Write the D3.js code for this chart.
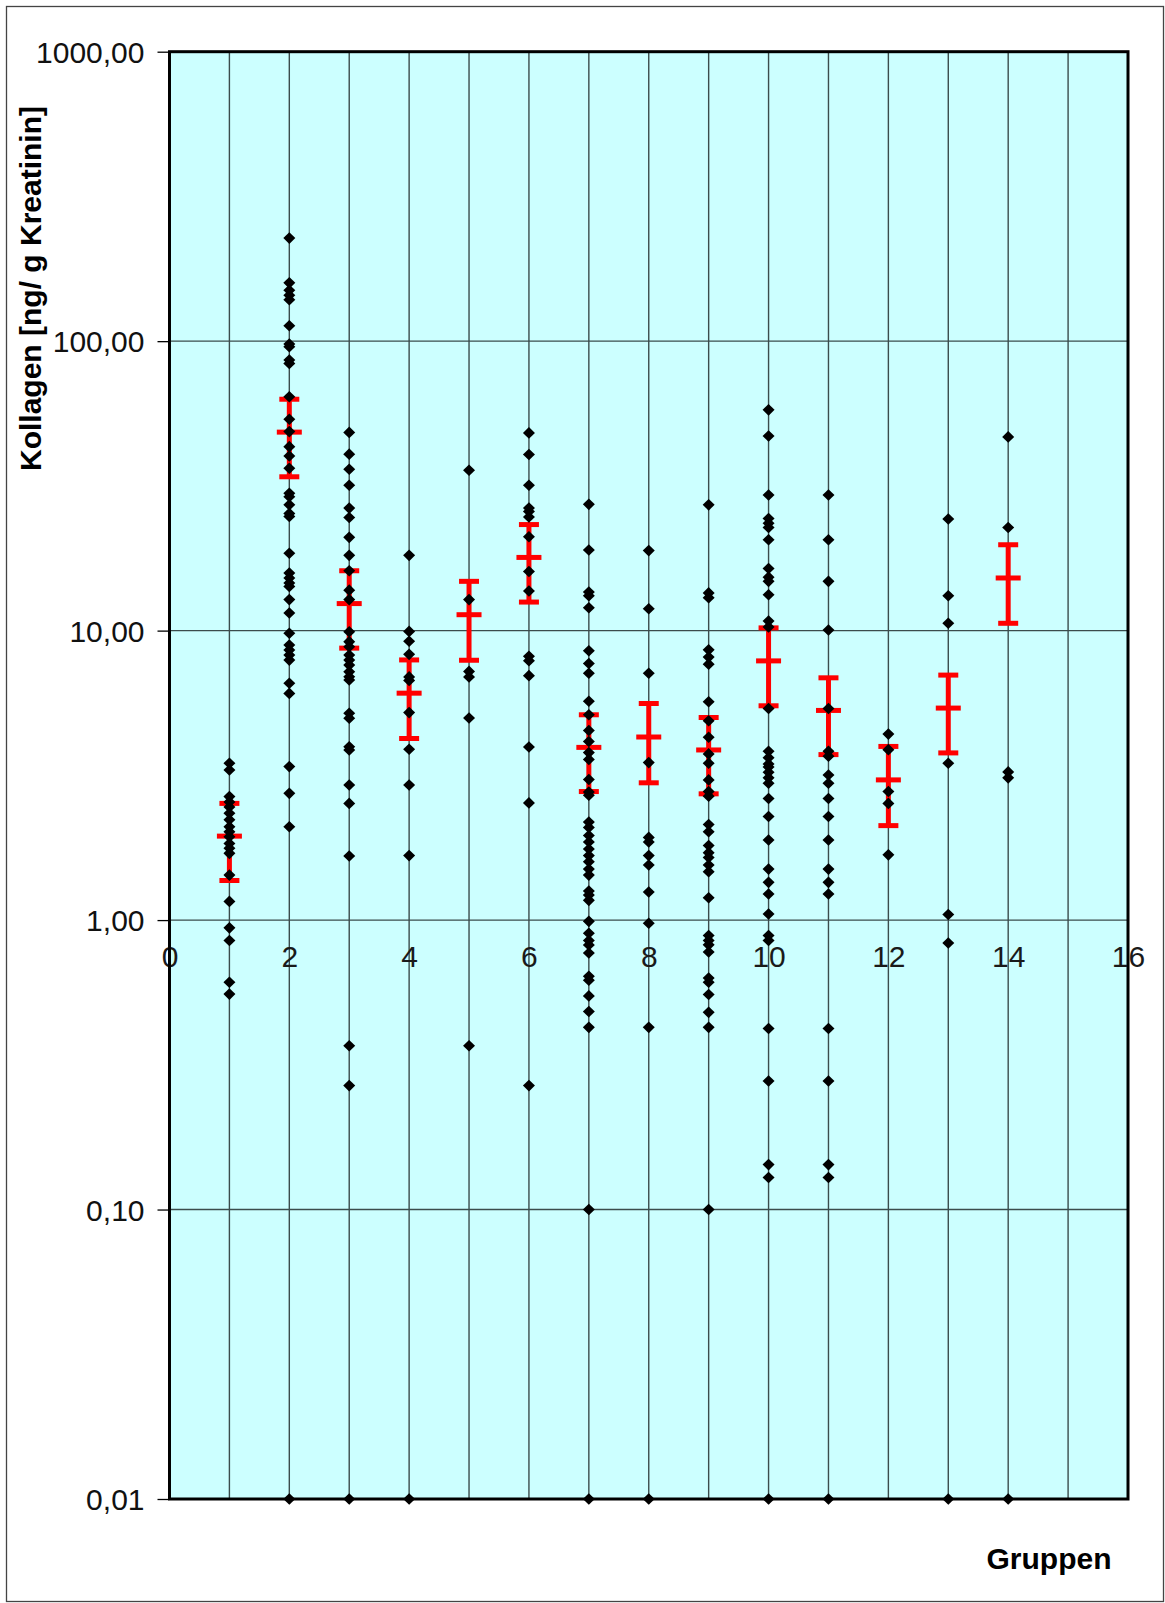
<!DOCTYPE html>
<html>
<head>
<meta charset="utf-8">
<script src="https://cdn.jsdelivr.net/npm/d3@7"></script>
<style>
  html, body { margin: 0; padding: 0; background: #fff; }
  svg { display: block; }
  text { font-family: "Liberation Sans", Arial, Helvetica, sans-serif; }
</style>
</head>
<body>
<svg id="chart" width="1165" height="1603"></svg>
<script>
// Kollagen per Gruppe (ng/g Kreatinin); 0,01 = Werte an der Achsenuntergrenze
const gruppe1  = [3.48, 3.30, 2.67, 2.56, 2.46, 2.34, 2.22, 2.10, 2.02, 1.94, 1.84, 1.77, 1.70, 1.43, 1.16, 0.94, 0.85, 0.61, 0.555];
const gruppe2  = [227, 159, 150, 144, 139, 113, 97.7, 95.7, 86.1, 83.8, 64.3, 53.7, 48.7, 43.2, 40.1, 36.4, 29.8, 29.0, 27.2, 25.4, 24.8, 18.5, 15.8, 15.2, 14.6, 14.2, 12.8, 11.5, 9.79, 8.92, 8.57, 8.23, 7.91, 6.58, 6.07, 3.39, 2.74, 2.10, 0.01];
const gruppe3  = [48.4, 40.7, 36.1, 31.8, 26.5, 24.6, 21.0, 18.2, 16.1, 13.8, 12.8, 9.91, 9.16, 8.80, 8.23, 7.91, 7.60, 7.21, 6.93, 6.75, 5.18, 4.98, 3.97, 3.87, 2.93, 2.53, 1.665, 0.368, 0.268, 0.01];
const gruppe4  = [18.2, 9.94, 9.19, 8.28, 6.92, 6.73, 5.21, 3.89, 2.93, 1.67, 0.01];
const gruppe5  = [35.8, 12.8, 7.23, 6.92, 4.99, 0.368];
const gruppe6  = [48.2, 40.6, 31.8, 26.5, 25.8, 24.7, 21.1, 16.0, 13.7, 8.15, 7.87, 6.99, 3.96, 2.54, 0.268];
const gruppe7  = [27.3, 19.0, 13.6, 13.2, 12.0, 8.52, 7.70, 7.12, 5.70, 5.12, 4.52, 4.14, 3.79, 3.59, 3.06, 2.77, 2.70, 2.18, 2.09, 1.96, 1.86, 1.76, 1.67, 1.59, 1.50, 1.43, 1.26, 1.22, 1.17, 0.99, 0.90, 0.85, 0.82, 0.77, 0.64, 0.62, 0.547, 0.483, 0.426, 0.1, 0.01];
const gruppe8  = [18.9, 11.9, 7.12, 3.50, 1.93, 1.86, 1.67, 1.55, 1.25, 0.975, 0.426, 0.01];
const gruppe9  = [27.2, 13.5, 13.0, 8.58, 8.10, 7.66, 5.68, 4.88, 4.28, 3.75, 3.48, 3.05, 2.78, 2.68, 2.14, 2.02, 1.81, 1.71, 1.645, 1.55, 1.47, 1.195, 0.885, 0.85, 0.821, 0.776, 0.631, 0.61, 0.553, 0.48, 0.426, 0.1];
const gruppe10 = [57.9, 47.0, 29.4, 24.4, 23.5, 22.7, 20.6, 16.4, 15.3, 14.8, 13.3, 10.8, 10.3, 5.38, 3.83, 3.64, 3.46, 3.38, 3.24, 3.10, 2.97, 2.63, 2.28, 1.89, 1.50, 1.35, 1.23, 1.05, 0.885, 0.85, 0.422, 0.278, 0.143, 0.129, 0.01];
const gruppe11 = [29.4, 20.6, 14.8, 10.05, 5.38, 3.83, 3.68, 3.17, 2.97, 2.63, 2.28, 1.89, 1.50, 1.35, 1.23, 0.422, 0.278, 0.143, 0.129, 0.01];
const gruppe12 = [4.39, 3.88, 2.78, 2.53, 1.68];
const gruppe13 = [24.3, 13.2, 10.6, 3.48, 1.045, 0.833, 0.01];
const gruppe14 = [46.7, 22.7, 3.25, 3.10, 0.01];

const gruppen = [1, 2, 3, 4, 5, 6, 7, 8, 9, 10, 11, 12, 13, 14];
const werte = [gruppe1, gruppe2, gruppe3, gruppe4, gruppe5, gruppe6, gruppe7,
               gruppe8, gruppe9, gruppe10, gruppe11, gruppe12, gruppe13, gruppe14];

// Mittelwert und Fehlerbalken je Gruppe
const mittelwerte = [1.95, 48.5, 12.4, 6.08, 11.35, 17.9, 3.95, 4.29, 3.87, 7.86, 5.3, 3.05, 5.4, 15.2];
const fehler      = [0.58, 14.5, 3.7, 1.84, 3.45, 5.35, 1.17, 1.31, 1.14, 2.36, 1.57, 0.93, 1.62, 4.6];

// Achsenbeschriftungen
const xTicks = [0, 2, 4, 6, 8, 10, 12, 14, 16];
const yTicks = [1000, 100, 10, 1, 0.1, 0.01];
const yTickLabels = ["1000,00", "100,00", "10,00", "1,00", "0,10", "0,01"];
const yTitel = "Kollagen [ng/ g Kreatinin]";
const xTitel = "Gruppen";

const svg = d3.select("#chart");
const plot = { left: 169.5, right: 1128, top: 51.7, bottom: 1499 };

const x = d3.scaleLinear().domain([0, 16]).range([plot.left, plot.right]);
const y = d3.scaleLog().domain([0.01, 1000]).range([plot.bottom, plot.top]);

// outer frame
svg.append("rect")
  .attr("x", 6.5).attr("y", 6.5)
  .attr("width", 1165 - 8).attr("height", 1603 - 8)
  .attr("fill", "#fff").attr("stroke", "#444").attr("stroke-width", 1.3);

// plot background
svg.append("rect")
  .attr("x", plot.left).attr("y", plot.top)
  .attr("width", plot.right - plot.left).attr("height", plot.bottom - plot.top)
  .attr("fill", "#CCFFFF");

// gridlines
const grid = svg.append("g").attr("stroke", "#3b4c4c").attr("stroke-width", 1.4);
grid.selectAll("line.v").data(d3.range(1, 16)).join("line")
  .attr("x1", d => x(d)).attr("x2", d => x(d))
  .attr("y1", plot.top).attr("y2", plot.bottom);
grid.selectAll("line.h").data(yTicks.slice(1, -1)).join("line")
  .attr("x1", plot.left).attr("x2", plot.right)
  .attr("y1", d => y(d)).attr("y2", d => y(d));

// y axis: ticks and labels
const yAxis = d3.axisLeft(y)
  .tickValues(yTicks)
  .tickFormat((d, i) => yTickLabels[i])
  .tickSize(12)
  .tickPadding(13);
const yg = svg.append("g").attr("transform", `translate(${plot.left},0)`).call(yAxis);
yg.select(".domain").remove();
yg.selectAll(".tick line").attr("stroke", "#000").attr("stroke-width", 1.3);
yg.selectAll(".tick text")
  .attr("font-size", 30).attr("fill", "#111")
  .attr("font-family", "'Liberation Sans', Arial, sans-serif")
  .attr("dy", "0.36em");

// x axis labels along the value 1 line
const xAxis = d3.axisBottom(x).tickValues(xTicks).tickFormat(d3.format("d")).tickSize(0).tickPadding(26);
const xg = svg.append("g").attr("transform", `translate(0,${y(1)})`).call(xAxis);
xg.select(".domain").remove();
xg.selectAll(".tick text")
  .attr("font-size", 30).attr("fill", "#1a1a1a")
  .attr("font-family", "'Liberation Sans', Arial, sans-serif");

// error bars (mean ± error)
const eb = svg.append("g").attr("stroke", "#FF0000").attr("stroke-width", 5).attr("fill", "none");
gruppen.forEach((g, i) => {
  const cx = x(g);
  const yHi = y(mittelwerte[i] + fehler[i]);
  const yLo = y(mittelwerte[i] - fehler[i]);
  const yM = y(mittelwerte[i]);
  eb.append("line").attr("x1", cx).attr("x2", cx).attr("y1", yHi).attr("y2", yLo);
  eb.append("line").attr("x1", cx - 10).attr("x2", cx + 10).attr("y1", yHi).attr("y2", yHi);
  eb.append("line").attr("x1", cx - 10).attr("x2", cx + 10).attr("y1", yLo).attr("y2", yLo);
  eb.append("line").attr("x1", cx - 12.5).attr("x2", cx + 12.5).attr("y1", yM).attr("y2", yM);
});

// data points as diamonds
const punkte = [];
gruppen.forEach((g, i) => werte[i].forEach(v => punkte.push({ g, v })));
const diamond = "M0,-5.8L6,0L0,5.8L-6,0Z";
svg.append("g").selectAll("path").data(punkte).join("path")
  .attr("d", diamond)
  .attr("transform", d => `translate(${x(d.g)},${y(d.v)})`)
  .attr("fill", "#000");

// plot border
svg.append("rect")
  .attr("x", plot.left).attr("y", plot.top)
  .attr("width", plot.right - plot.left).attr("height", plot.bottom - plot.top)
  .attr("fill", "none").attr("stroke", "#000").attr("stroke-width", 3);

// axis titles
svg.append("text")
  .attr("transform", `translate(41,${(102 + 475) / 2}) rotate(-90)`)
  .attr("text-anchor", "middle")
  .attr("font-size", 30).attr("font-weight", "bold").attr("fill", "#000")
  .text(yTitel);

svg.append("text")
  .attr("x", 1049).attr("y", 1569)
  .attr("text-anchor", "middle")
  .attr("font-size", 30).attr("font-weight", "bold").attr("fill", "#000")
  .text(xTitel);
</script>
</body>
</html>
